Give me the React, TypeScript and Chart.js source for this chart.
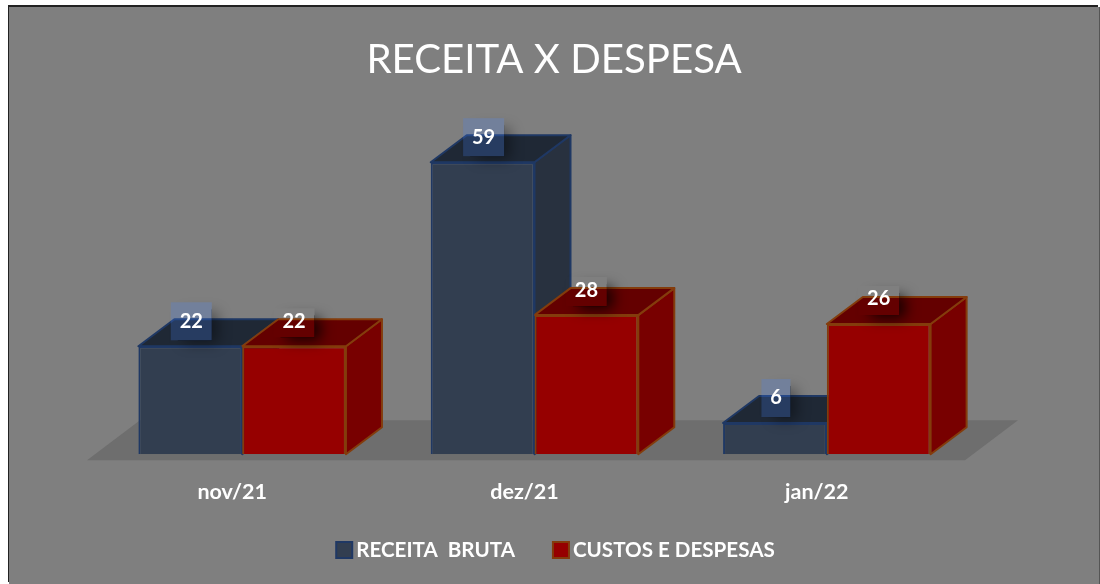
import React, { useEffect, useRef } from "react";
import { Chart, registerables } from "chart.js";

Chart.register(...registerables);

const categories = ["nov/21", "dez/21", "jan/22"];
const receitaBruta = [21.8, 59, 6.3];
const custosDespesas = [21.8, 28.1, 26.3];
const seriesNames = ["RECEITA  BRUTA", "CUSTOS E DESPESAS"];
const chartTitle = "RECEITA X DESPESA";

const FONT = "Lato, Carlito, Calibri, sans-serif";
const DEPTH_X = 36;
const DEPTH_Y = 27;

const styles = [
  { front: "#323e50", top: "#1f2835", side: "#28313f", edge: "#1f3864" },
  { front: "#960000", top: "#640000", side: "#780000", edge: "#843c0c" },
];

const poly = (ctx: CanvasRenderingContext2D, pts: number[][], fill: string, edge: string) => {
  ctx.beginPath();
  pts.forEach(([x, y], i) => (i ? ctx.lineTo(x, y) : ctx.moveTo(x, y)));
  ctx.closePath();
  ctx.fillStyle = fill;
  ctx.fill();
  ctx.strokeStyle = edge;
  ctx.lineWidth = 2;
  ctx.lineJoin = "round";
  ctx.stroke();
};

const box3d = {
  id: "box3d",
  beforeDatasetsDraw(chart: any) {
    const { ctx, chartArea, scales } = chart;
    const y0 = scales.y.getPixelForValue(0);
    ctx.save();
    ctx.beginPath();
    ctx.moveTo(chartArea.left - 9, y0 + 6);
    ctx.lineTo(chartArea.right - 8, y0 + 6);
    ctx.lineTo(chartArea.right + 45, y0 - 34);
    ctx.lineTo(chartArea.left + 44, y0 - 34);
    ctx.closePath();
    ctx.fillStyle = "#6e6e6e";
    ctx.fill();

    chart.data.datasets.forEach((_: any, di: number) => {
      const s = styles[di];
      chart.getDatasetMeta(di).data.forEach((bar: any) => {
        const { x, y, width } = bar.getProps(["x", "y", "width"], true);
        const l = x - width / 2;
        const r = x + width / 2;
        poly(ctx, [[r, y], [r + DEPTH_X, y - DEPTH_Y], [r + DEPTH_X, y0 - DEPTH_Y], [r, y0]], s.side, s.edge);
        poly(ctx, [[l, y], [l + DEPTH_X, y - DEPTH_Y], [r + DEPTH_X, y - DEPTH_Y], [r, y]], s.top, s.edge);
      });
    });
    ctx.restore();
  },
  afterDatasetsDraw(chart: any) {
    const { ctx, width: W } = chart;
    ctx.save();
    chart.data.datasets.forEach((ds: any, di: number) => {
      chart.getDatasetMeta(di).data.forEach((bar: any, i: number) => {
        const { x, y } = bar.getProps(["x", "y"], true);
        const text = String(Math.round(ds.data[i]));
        const cx = x + (di === 0 ? 1 : 0);
        const cy = y - 25;
        const w = text.length > 1 ? 41 : 29;
        const top = di === 0 ? cy - 19 : cy - 13;
        const h = di === 0 ? 38 : 29;
        // soft shadow to the right of and below the label box only
        ctx.save();
        ctx.beginPath();
        ctx.rect(cx - w / 2 - 40, top - 40, w + 100, h + 90);
        ctx.rect(cx - w / 2, top, w, h);
        ctx.clip("evenodd");
        ctx.shadowColor = di === 0 ? "rgba(0,0,0,0.4)" : "rgba(0,0,0,0.8)";
        ctx.shadowBlur = 14;
        ctx.shadowOffsetX = 6;
        ctx.shadowOffsetY = 3;
        ctx.fillStyle = "#000";
        ctx.fillRect(cx - w / 2 + 7, top + 7, w - 7, h - 7);
        ctx.restore();
        if (di === 0) {
          ctx.fillStyle = "rgba(70,130,255,0.22)";
          ctx.fillRect(cx - w / 2, top, w, h);
        }
        ctx.fillStyle = "#ffffff";
        ctx.font = `bold 20px ${FONT}`;
        ctx.textAlign = "center";
        ctx.textBaseline = "middle";
        ctx.fillText(text, cx, cy);
      });
    });

    // legend: centred row, tight swatch-to-text gap
    ctx.font = `bold 20.6px ${FONT}`;
    ctx.textBaseline = "middle";
    ctx.textAlign = "left";
    const box = 16;
    const gap = 4;
    const between = 38;
    const names: string[] = chart.data.datasets.map((d: any) => d.label);
    const widths = names.map((n) => ctx.measureText(n).width);
    const total = widths.reduce((a, b) => a + b + box + gap, 0) + between * (names.length - 1);
    let lx = W / 2 + 1.5 - total / 2;
    const ly = 543;
    names.forEach((n, i) => {
      ctx.fillStyle = styles[i].front;
      ctx.strokeStyle = styles[i].edge;
      ctx.lineWidth = 2;
      ctx.fillRect(lx, ly - box / 2, box, box);
      ctx.strokeRect(lx, ly - box / 2, box, box);
      ctx.fillStyle = "#ffffff";
      ctx.fillText(n, lx + box + gap, ly);
      lx += box + gap + widths[i] + between;
    });
    ctx.restore();
  },
};

export default function App() {
  const ref = useRef<HTMLCanvasElement>(null);
  useEffect(() => {
    const chart = new Chart(ref.current!, {
      type: "bar",
      data: {
        labels: categories,
        datasets: [
          { label: seriesNames[0], data: receitaBruta, backgroundColor: styles[0].front, borderColor: styles[0].edge, borderWidth: 2 },
          { label: seriesNames[1], data: custosDespesas, backgroundColor: styles[1].front, borderColor: styles[1].edge, borderWidth: 2 },
        ],
      },
      options: {
        animation: false,
        responsive: false,
        layout: { padding: { left: 0, right: 0, top: 0, bottom: 62 } },
        datasets: { bar: { categoryPercentage: 0.71, barPercentage: 1 } },
        scales: {
          x: {
            grid: { display: false },
            border: { display: false },
            ticks: { color: "#ffffff", font: { family: FONT, size: 21.5, weight: "bold" }, padding: 17, maxRotation: 0, labelOffset: -10 },
          },
          y: {
            min: 0,
            max: 60,
            grid: { display: false },
            border: { display: false },
            ticks: { display: false },
            afterFit: (s: any) => { s.width = 87; },
          },
          yRight: {
            type: "linear",
            position: "right",
            grid: { display: false },
            border: { display: false },
            ticks: { display: false },
            afterFit: (s: any) => { s.width = 126; },
          },
        },
        plugins: {
          title: { display: true, text: chartTitle, color: "#ffffff", font: { family: FONT, size: 40.2, weight: "normal" }, padding: { top: 29, bottom: 73 } },
          legend: { display: false },
          tooltip: { enabled: false },
        },
      },
      plugins: [box3d],
    } as any);
    return () => chart.destroy();
  }, []);
  return (
    <div style={{ position: "absolute", left: 0, top: 0, width: 1100, height: 584, background: "#fff", overflow: "hidden" }}>
      <canvas ref={ref} width={1090} height={577} style={{ position: "absolute", left: 9, top: 7, background: "#7f7f7f", boxShadow: "-1px -2px 0 #222, 1px 0 0 #555" }} />
    </div>
  );
}
